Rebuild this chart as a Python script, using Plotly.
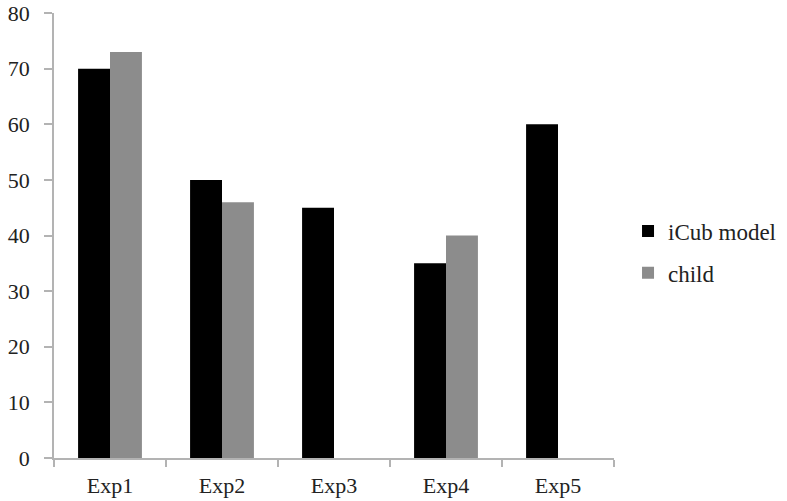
import plotly.graph_objects as go

# Experiment scores for the iCub model and the child
categories = ["Exp1", "Exp2", "Exp3", "Exp4", "Exp5"]
icub_model = [70, 50, 45, 35, 60]
child = [73, 46, None, 40, None]
y_ticks = [0, 10, 20, 30, 40, 50, 60, 70, 80]

FONT = "Liberation Serif"
AXIS_GREY = "#b3b3b3"
TEXT = "#222222"

fig = go.Figure()
fig.add_trace(go.Bar(name="iCub model", x=categories, y=icub_model,
                     marker=dict(color="#000000", line=dict(width=0)),
                     legendgroup="a"))
fig.add_trace(go.Bar(name="child", x=categories, y=child,
                     marker=dict(color="#8c8c8c", line=dict(width=0)),
                     legendgroup="b"))

fig.update_layout(
    width=787, height=501,
    margin=dict(l=54, r=173, t=13, b=43),
    paper_bgcolor="white", plot_bgcolor="white",
    barmode="group", bargap=0.43, bargroupgap=0,
    font=dict(family=FONT, size=22, color=TEXT),
    legend=dict(xref="container", yref="container",
                x=0.798, y=0.497, xanchor="left", yanchor="middle",
                traceorder="grouped", tracegroupgap=9,
                font=dict(family=FONT, size=23, color=TEXT),
                itemwidth=30),
    showlegend=True,
)
fig.update_xaxes(
    showline=True, linecolor=AXIS_GREY, linewidth=1.5,
    ticks="outside", tickson="boundaries", ticklen=7, tickcolor=AXIS_GREY,
    tickwidth=1.5, ticklabelstandoff=7, showgrid=False, automargin=False,
)
fig.update_yaxes(
    range=[0, 80], tickvals=y_ticks, showline=True, linecolor=AXIS_GREY,
    linewidth=1.5, ticks="outside", ticklen=8, tickcolor=AXIS_GREY,
    tickwidth=1.5, ticklabelstandoff=10, showgrid=False, zeroline=False,
    automargin=False,
)

fig.write_html("out.html")
